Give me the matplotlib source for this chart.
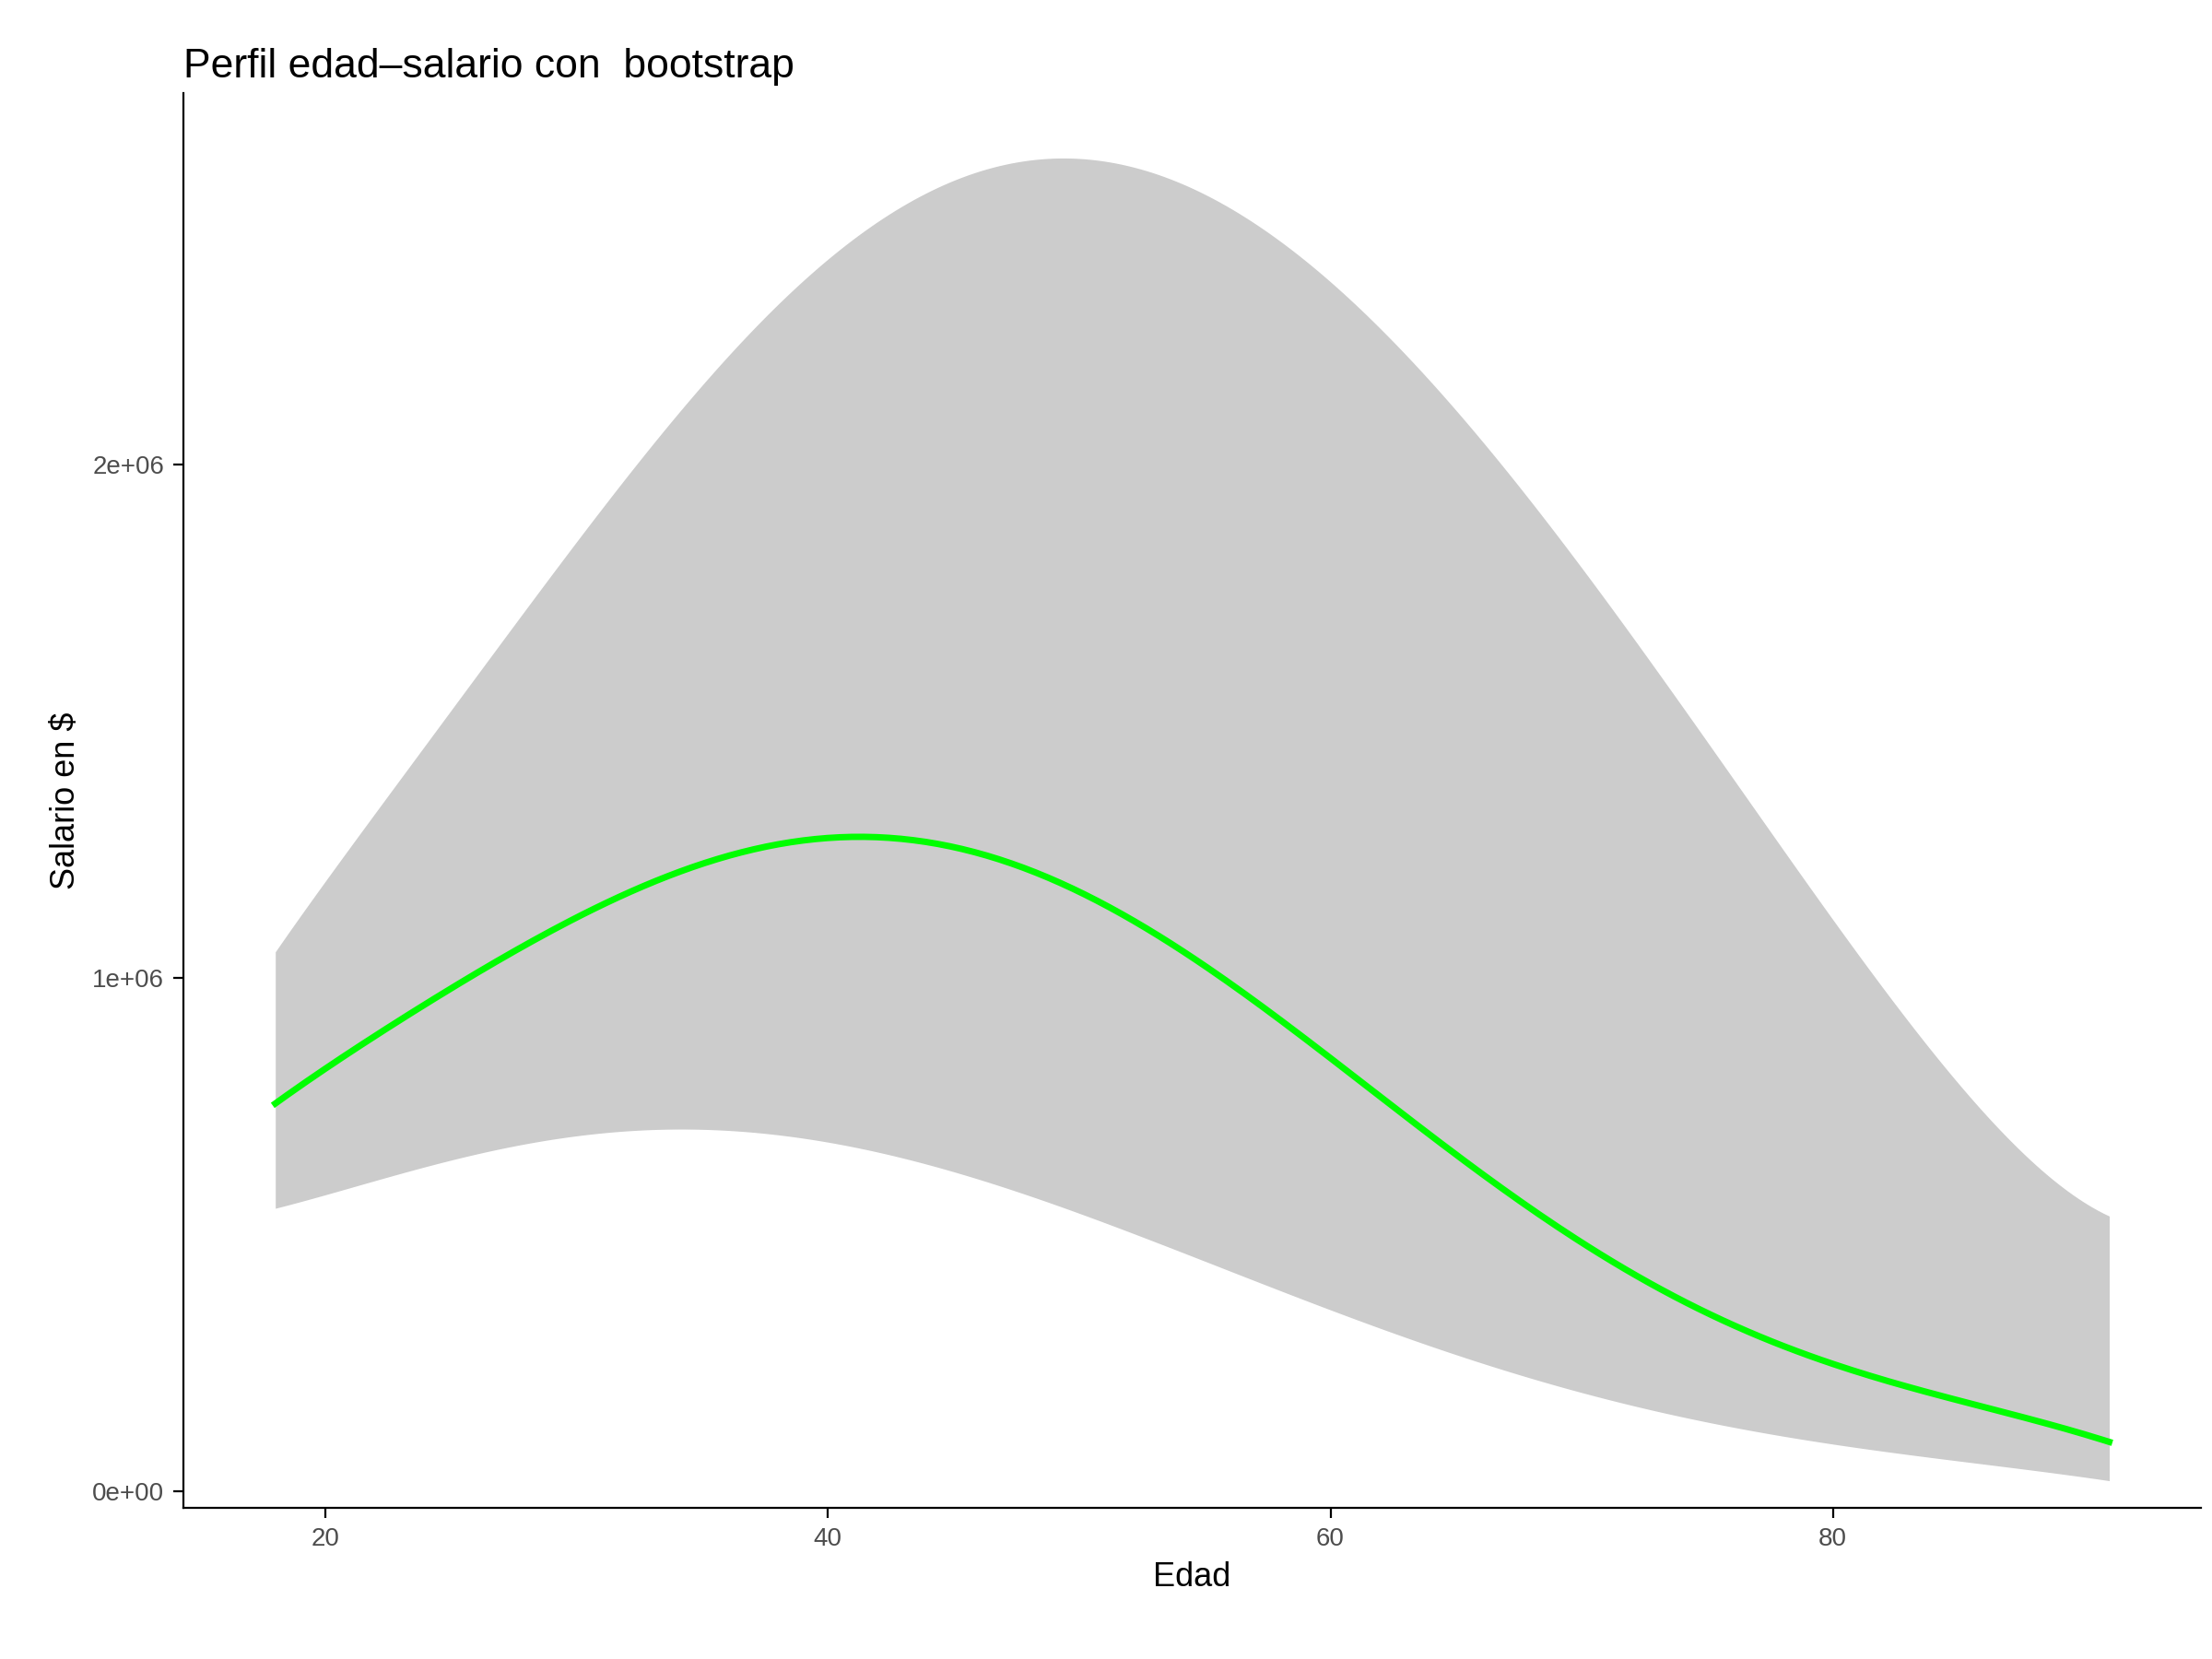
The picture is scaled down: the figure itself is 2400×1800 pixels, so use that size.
import matplotlib
matplotlib.use('Agg')
import matplotlib.pyplot as plt

# Perfil edad-salario (en millones)
edad = [18, 20, 25, 30, 35, 40, 45, 50, 55, 60, 65, 70, 75, 80, 85, 91]
media = [0.757, 0.82, 0.98, 1.12, 1.22, 1.275, 1.25, 1.17, 1.02, 0.85, 0.66, 0.47, 0.35, 0.257, 0.17, 0.097]
inferior = [0.547, 0.585, 0.64, 0.69, 0.71, 0.68, 0.62, 0.54, 0.45, 0.35, 0.27, 0.19, 0.135, 0.09, 0.06, 0.02]
superior = [1.05, 1.19, 1.52, 1.85, 2.16, 2.39, 2.56, 2.60, 2.52, 2.36, 2.10, 1.80, 1.47, 1.10, 0.80, 0.535]

import numpy as np
xs = np.linspace(18, 91, 300)
def suave(v):
    return np.interp(xs, edad, np.array(v) * 1e6)
# interpolacion cubica simple para suavizar
from numpy.polynomial import polynomial as P
def spline(v):
    c = np.polyfit(edad, np.array(v) * 1e6, 7)
    return np.polyval(c, xs)

plt.rcParams['font.family'] = ['Liberation Sans', 'DejaVu Sans']
fig = plt.figure(figsize=(12, 9), dpi=200)
ax = fig.add_axes([0.083, 0.091, 0.912, 0.853])
ax.fill_between(xs, spline(inferior), spline(superior), color='#cccccc', lw=0)
ax.plot(xs, spline(media), color='#00ff00', lw=2.5)

ax.set_xlim(14.35, 94.65)
ax.set_ylim(-0.033e6, 2.724e6)
ax.set_xticks([20, 40, 60, 80])
ax.set_yticks([0, 1e6, 2e6])
ax.set_yticklabels(['0e+00', '1e+06', '2e+06'])
ax.tick_params(labelsize=10, colors='#4d4d4d', length=4)
ax.tick_params(color='black')
for s in ['top', 'right']:
    ax.spines[s].set_visible(False)
ax.set_xlabel('Edad', fontsize=13)
ax.set_ylabel('Salario en $', fontsize=13)
ax.set_title('Perfil edad\u2013salario con  bootstrap', fontsize=16, loc='left')
fig.savefig('out.png')
